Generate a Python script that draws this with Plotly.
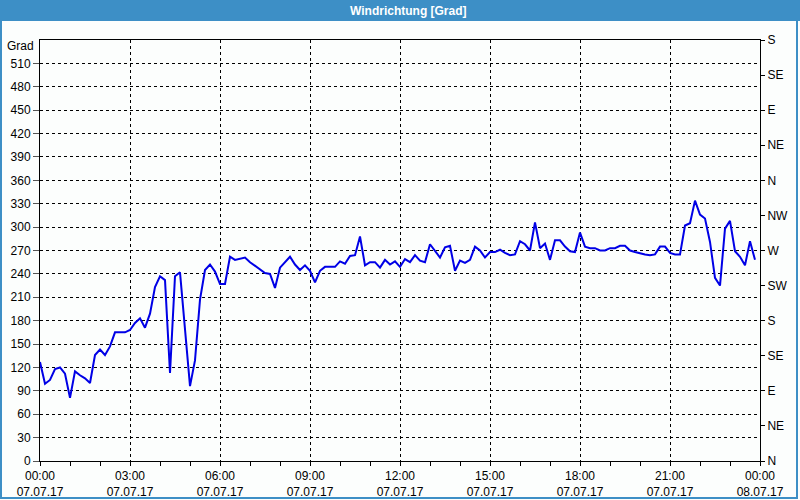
import plotly.graph_objects as go
import pandas as pd

# Wind direction in degrees, 10-minute values from 07.07.17 00:00
wind_deg = [127, 99, 104, 118, 120, 112, 81, 115, 110, 106, 100, 136, 143, 136, 147, 165,
            165, 165, 168, 177, 183, 171, 189, 223, 237, 232, 113, 237, 242, 164, 96, 129,
            207, 245, 252, 243, 227, 227, 262, 258, 260, 261, 255, 250, 245, 241, 240, 222,
            248, 255, 262, 252, 245, 251, 244, 229, 244, 249, 249, 249, 256, 253, 263, 264,
            288, 251, 255, 255, 248, 258, 252, 256, 249, 259, 255, 264, 257, 255, 278, 270,
            261, 274, 276, 244, 257, 254, 258, 275, 270, 261, 268, 268, 271, 267, 264, 265,
            282, 278, 270, 306, 273, 279, 258, 283, 283, 275, 269, 268, 293, 275, 273, 273,
            270, 270, 273, 273, 276, 276, 270, 268, 266, 265, 264, 265, 275, 275, 267, 265,
            265, 302, 305, 334, 316, 311, 281, 235, 225, 298, 308, 269, 262, 251, 282, 258]
start_time = "2017-07-07 00:00"
end_time = "2017-07-08 00:00"
times = pd.date_range(start_time, periods=len(wind_deg), freq="10min")

deg_ticks = list(range(0, 540, 30))
compass_vals = list(range(0, 541, 45))
compass_text = ["N", "NE", "E", "SE", "S", "SW", "W", "NW", "N", "NE", "E", "SE", "S"]

title_text = "Windrichtung [Grad]"
unit_text = "Grad"

FONT = "Liberation Sans"
BLUE = "#3d8fc6"

# plot area in pixels
L, R, T, B = 40, 760, 40, 461
W, H = R - L, B - T


def px(x):
    return (x - L) / W


def py(y):
    return (B - y) / H


fig = go.Figure()
fig.add_trace(go.Scatter(x=times, y=wind_deg, mode="lines",
                         line=dict(color="#0000e6", width=2),
                         showlegend=False, hoverinfo="x+y"))
fig.add_trace(go.Scatter(x=[times[0]], y=[0], yaxis="y2", mode="markers",
                         marker=dict(opacity=0), showlegend=False, hoverinfo="skip"))

grid = dict(showgrid=True, gridcolor="black", gridwidth=1, griddash="3px,3px")

fig.update_layout(
    width=800, height=500,
    margin=dict(l=L, r=800 - R, t=T, b=500 - B, autoexpand=False),
    paper_bgcolor="#fcfefd", plot_bgcolor="#fcfefd",
    font=dict(family=FONT, size=12, color="black"),
    xaxis=dict(range=[start_time, end_time], type="date", automargin=False,
               dtick=3 * 3600000, tick0=start_time,
               tickformat="%H:%M<br>%d.%m.%y",
               ticks="outside", ticklen=4, tickcolor="black",
               minor=dict(dtick=3600000, ticks="outside", ticklen=4, tickcolor="black", showgrid=False),
               showline=True, linecolor="black", linewidth=1, mirror=True,
               zeroline=False, **grid),
    yaxis=dict(range=[0, 540], tickvals=deg_ticks, automargin=False,
               ticks="outside", ticklen=6, tickcolor="#555",
               showline=True, linecolor="black", linewidth=1,
               zeroline=False, **grid),
    yaxis2=dict(range=[0, 540], overlaying="y", side="right", automargin=False,
                tickvals=compass_vals, ticktext=compass_text,
                ticks="outside", ticklen=4, tickcolor="black",
                showline=True, linecolor="black", linewidth=1,
                showgrid=False, zeroline=False),
    shapes=[
        dict(type="rect", xref="paper", yref="paper", x0=px(0), x1=px(800), y0=py(21), y1=py(0),
             fillcolor=BLUE, line=dict(width=0), layer="above"),
        dict(type="rect", xref="paper", yref="paper", x0=px(1), x1=px(797), y0=py(498), y1=py(0),
             fillcolor="rgba(0,0,0,0)", line=dict(color=BLUE, width=2), layer="above"),
    ],
    annotations=[
        dict(text="<b>" + title_text + "</b>", xref="paper", yref="paper", x=px(409), y=py(10.5),
             showarrow=False, font=dict(color="white", size=12, family=FONT),
             xanchor="center", yanchor="middle"),
        dict(text=unit_text, xref="paper", yref="paper", x=px(36), y=py(46),
             showarrow=False, xanchor="right", yanchor="middle",
             font=dict(size=12, family=FONT, color="black")),
    ],
)

fig.write_html("out.html")
